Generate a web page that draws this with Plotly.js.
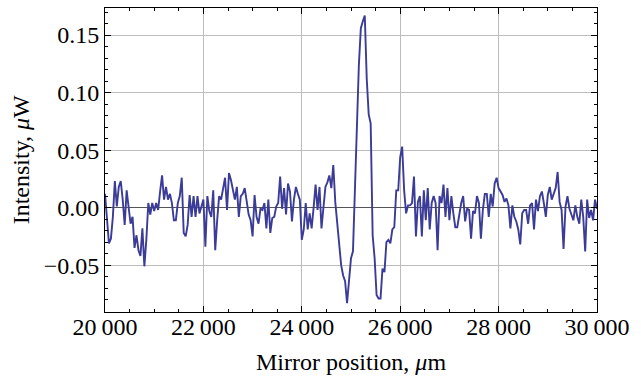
<!DOCTYPE html>
<html>
<head>
<meta charset="utf-8">
<script src="https://cdn.plot.ly/plotly-3.0.1.min.js"></script>
<style>html,body{margin:0;padding:0;background:#fff;}#chart{width:641px;height:380px;}</style>
</head>
<body>
<div id="chart"></div>
<script>
// Mirror position sampling: start and step (µm)
const xStart = 20000;
const xStep = 40;

// Intensity, µW
const intensity = [
  0.012, -0.008, -0.031, -0.027, -0.008, 0.023, 0.001, 0.018, 0.023, 0.007,
  -0.015, 0.015, -0.001, -0.014, -0.008, -0.035, -0.024, -0.037, -0.042, -0.018,
  -0.051, -0.028, 0.004, -0.006, 0.004, -0.003, 0.004, -0.002, 0.014, 0.028,
  0.007, 0.018, 0.007, 0.012, 0.004, -0.011,
  -0.011, 0.004, 0.010, 0.026, -0.022, -0.025, -0.015, 0.011, -0.008, 0.010,
  -0.008, 0.010, -0.005, 0.001, 0.007, -0.034, 0.010, -0.003, -0.008, 0.015,
  -0.037, -0.011, 0.010, 0.007, 0.015, 0.026, -0.002, 0.030, 0.024, 0.015,
  0.007, 0.018, -0.008, 0.010, 0.012,
  0.017, 0.004, -0.006, -0.011, -0.025, 0.011, -0.008, -0.014, -0.001, -0.002,
  0.004, -0.018, 0.007, -0.022, -0.009, -0.008, 0.001, 0.004, 0.027, -0.001,
  0.017, -0.006, 0.021, 0.014, -0.012, 0.007, 0.018, 0.012, 0.007, -0.028,
  -0.019, 0.004, -0.019, -0.005, -0.018,
  0.000, 0.020, -0.002, 0.018, -0.018, -0.001, 0.018, 0.022, 0.028, 0.017,
  0.037, 0.005, -0.012, -0.031, -0.050, -0.059, -0.064, -0.083, -0.061, -0.044,
  -0.038, 0.008, 0.070, 0.124, 0.156, 0.162, 0.167, 0.112, 0.081, 0.073,
  -0.024, -0.044, -0.076, -0.079, -0.079, -0.053, -0.056, -0.030,
  -0.028, -0.031, -0.019, -0.017, 0.015, 0.015, 0.044, 0.053, 0.015, -0.005,
  0.002, 0.002, 0.004, 0.027, -0.025, 0.005, 0.010, -0.025, 0.015, -0.011,
  0.017, -0.019, 0.004, 0.010, 0.004, -0.037, 0.010, 0.004, 0.020, -0.008,
  0.017, -0.011, 0.010, -0.005, -0.017,
  -0.017, -0.005, 0.004, 0.010, -0.012, -0.001, -0.002, -0.027, -0.003, -0.005,
  0.010, 0.004, -0.027, -0.002, 0.012, 0.012, -0.008, 0.012, 0.001, 0.021,
  0.026, 0.017, 0.014, 0.011, 0.005, 0.008, 0.002, -0.018, 0.002, -0.008,
  -0.012, -0.019, -0.032, -0.005, -0.002,
  -0.002, -0.014, 0.002, 0.004, -0.019, 0.007, -0.003, 0.010, 0.014, 0.004,
  -0.008, 0.011, 0.018, 0.007, 0.012, 0.017, 0.031, 0.005, -0.002, -0.036,
  0.001, 0.010, -0.001, -0.006, -0.011, 0.002, -0.008, -0.014, 0.007, -0.008,
  -0.038, 0.007, -0.009, -0.002, -0.011, 0.007, -0.001
];

// Tick values and labels
const xTickVals = [20000, 22000, 24000, 26000, 28000, 30000];
const xTickText = ["20\u2009000", "22\u2009000", "24\u2009000", "26\u2009000", "28\u2009000", "30\u2009000"];
const yTickVals = [-0.05, 0, 0.05, 0.10, 0.15];
const yTickText = ["\u22120.05", "0.00", "0.05", "0.10", "0.15"];

const serif = "Liberation Serif, Times New Roman, serif";
const fs = 24;

const trace = {
  type: "scatter",
  mode: "lines",
  x0: xStart,
  dx: xStep,
  y: intensity,
  line: {color: "#3b3b98", width: 1.9},
  hoverinfo: "skip"
};

const layout = {
  width: 641,
  height: 380,
  margin: {l: 105, r: 44, t: 8, b: 68},
  paper_bgcolor: "#ffffff",
  plot_bgcolor: "#ffffff",
  showlegend: false,
  font: {family: serif, size: fs, color: "#000"},
  xaxis: {
    range: [20000, 30000],
    tickmode: "array",
    tickvals: xTickVals,
    ticktext: xTickText,
    ticks: "inside",
    ticklen: 6,
    tickcolor: "#000",
    showline: true,
    linecolor: "#000",
    linewidth: 1,
    mirror: "ticks",
    showgrid: true,
    gridcolor: "#bdbdbd",
    gridwidth: 1,
    zeroline: false,
    ticklabelstandoff: -7,
    tickfont: {family: serif, size: fs, color: "#000"},
    minor: {dtick: 500, tick0: 20000, ticks: "inside", ticklen: 3, tickcolor: "#000", showgrid: false}
  },
  yaxis: {
    range: [-0.0907, 0.1735],
    tickmode: "array",
    tickvals: yTickVals,
    ticktext: yTickText,
    ticks: "inside",
    ticklen: 6,
    tickcolor: "#000",
    showline: true,
    linecolor: "#000",
    linewidth: 1,
    mirror: "ticks",
    showgrid: true,
    gridcolor: "#bdbdbd",
    gridwidth: 1,
    zeroline: true,
    zerolinecolor: "#555",
    zerolinewidth: 1,
    tickfont: {family: serif, size: fs, color: "#000"},
    minor: {dtick: 0.01, tick0: 0, ticks: "inside", ticklen: 3, tickcolor: "#000", showgrid: false}
  },
  annotations: [
    {
      text: "Mirror position, <i>\u03bc</i>m",
      xref: "paper", yref: "paper",
      x: 0.5, y: -0.165,
      xanchor: "center", yanchor: "middle",
      showarrow: false,
      font: {family: serif, size: fs, color: "#000"}
    },
    {
      text: "Intensity, <i>\u03bc</i>W",
      xref: "paper", yref: "paper",
      x: -0.17, y: 0.5,
      xanchor: "center", yanchor: "middle",
      textangle: -90,
      showarrow: false,
      font: {family: serif, size: fs, color: "#000"}
    }
  ]
};

Plotly.newPlot("chart", [trace], layout, {staticPlot: true, displayModeBar: false});
</script>
</body>
</html>
